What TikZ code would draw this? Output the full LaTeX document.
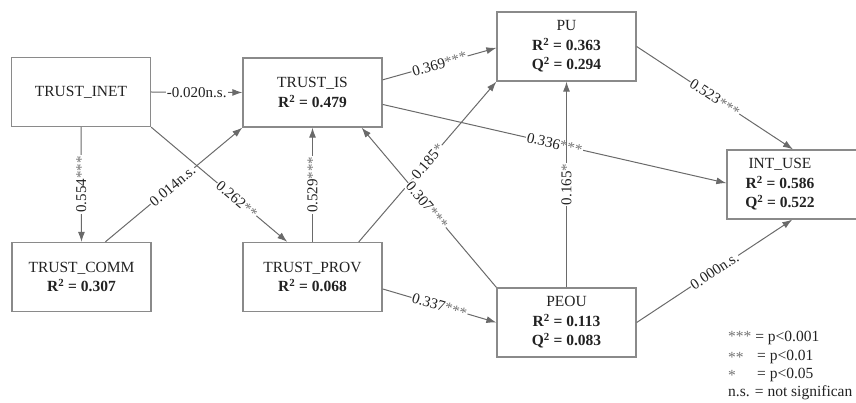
\documentclass[tikz,border=0pt]{standalone}
\usepackage{fontspec}
\setmainfont{Liberation Serif}
\usetikzlibrary{arrows.meta,calc}
\definecolor{edgegray}{HTML}{6A6A6A}
\definecolor{boxgray}{HTML}{8A8A8A}
\definecolor{txt}{HTML}{222222}
\newcommand{\sig}[1]{\textcolor{black!55}{#1}}
\begin{document}
\begin{tikzpicture}[x=1pt,y=-1pt,
  box/.style={draw=boxgray, line width=1.3pt, minimum width=139pt, minimum height=69pt, inner sep=0pt, align=center, text=txt, font=\fontsize{15.5}{19.5}\selectfont},
  boxtext/.style={align=center, inner sep=0pt, text=txt, font=\fontsize{15.5}{19.5}\selectfont},
  conn/.style={draw=edgegray, line width=1pt, -{Latex[length=10pt,width=7pt]}},
  lab/.style={fill=white, inner sep=1pt, text=txt, font=\fontsize{15}{18}\selectfont},
  legend/.style={anchor=west, inner sep=0pt, text=txt, font=\fontsize{15.5}{18}\selectfont},
]
\useasboundingbox (0,0) rectangle (856,403);

% boxes
\node[box] (inet) at (81,92) {TRUST\_INET};
\node[box] (is) at (312.5,92.5) {TRUST\_IS\\\textbf{R\textsuperscript{2} = 0.479}};
\node[box] (pu) at (566.5,46.5) {PU\\\textbf{R\textsuperscript{2} = 0.363}\\\textbf{Q\textsuperscript{2} = 0.294}};
\node[box] (comm) at (81.5,277) {TRUST\_COMM\\\textbf{R\textsuperscript{2} = 0.307}};
\node[box] (prov) at (312.5,277) {TRUST\_PROV\\\textbf{R\textsuperscript{2} = 0.068}};
\node[box] (peou) at (566.5,322.5) {PEOU\\\textbf{R\textsuperscript{2} = 0.113}\\\textbf{Q\textsuperscript{2} = 0.083}};
\node[box] (intuse) at (796.5,184.5) {};
\node[boxtext] (intusetxt) at (780,184.5) {INT\_USE\\\textbf{R\textsuperscript{2} = 0.586}\\\textbf{Q\textsuperscript{2} = 0.522}};

% connection points
\coordinate (provN1) at ($(prov.north west)!0.32!(prov.north east)$);
\coordinate (commN) at ($(comm.north west)!0.67!(comm.north east)$);
\coordinate (provN2) at ($(prov.north west)!0.83!(prov.north east)$);
\coordinate (isS2) at ($(is.south west)!0.85!(is.south east)$);
\coordinate (isE1) at ($(is.north east)!0.32!(is.south east)$);
\coordinate (isE2) at ($(is.north east)!0.67!(is.south east)$);
\coordinate (puW) at ($(pu.north west)!0.52!(pu.south west)$);
\coordinate (iuW) at ($(intuse.north west)!0.48!(intuse.south west)$);
\coordinate (iuN) at ($(intuse.north west)!0.475!(intuse.north east)$);
\coordinate (iuS) at ($(intuse.south west)!0.47!(intuse.south east)$);
\coordinate (provE) at ($(prov.north east)!0.67!(prov.south east)$);

% connectors
\draw[conn] (inet.east) -- node[lab] {-0.020n.s.} (is.west);
\draw[conn] (inet.south) -- node[lab, rotate=90] {0.554\sig{***}} (comm.north);
\draw[conn] (inet.south east) -- node[lab, sloped, pos=0.63] {0.262\sig{**}} (provN1);
\draw[conn] (commN) -- node[lab, sloped, pos=0.49] {0.014n.s.} (is.south west);
\draw[conn] (prov.north) -- node[lab, rotate=90] {0.529\sig{***}} (is.south);
\draw[conn] (provN2) -- node[lab, sloped] {0.185\sig{*}} (pu.south west);
\draw[conn] (peou.north west) -- node[lab, sloped, pos=0.515] {0.307\sig{***}} (isS2);
\draw[conn] (isE1) -- node[lab, sloped] {0.369\sig{***}} (puW);
\draw[conn] (isE2) -- node[lab, sloped] {0.336\sig{***}} (iuW);
\draw[conn] (pu.east) -- node[lab, sloped] {0.523\sig{***}} (iuN);
\draw[conn] (peou.north) -- node[lab, rotate=90] {0.165\sig{*}} (pu.south);
\draw[conn] (provE) -- node[lab, sloped] {0.337\sig{***}} (peou.west);
\draw[conn] (peou.east) -- node[lab, sloped] {0.000n.s.} (iuS);

% legend
\node[legend] (leg1) at (728,338) {\sig{***} = p<0.001};
\node[legend] (leg2a) at (728,357) {\sig{**}};
\node[legend] (leg2b) at (757,357) {= p<0.01};
\node[legend] (leg3a) at (728,375) {\sig{*}};
\node[legend] (leg3b) at (757,375) {= p<0.05};
\node[legend] (leg4) at (728,393) {n.s. = not significan};
\end{tikzpicture}
\end{document}
